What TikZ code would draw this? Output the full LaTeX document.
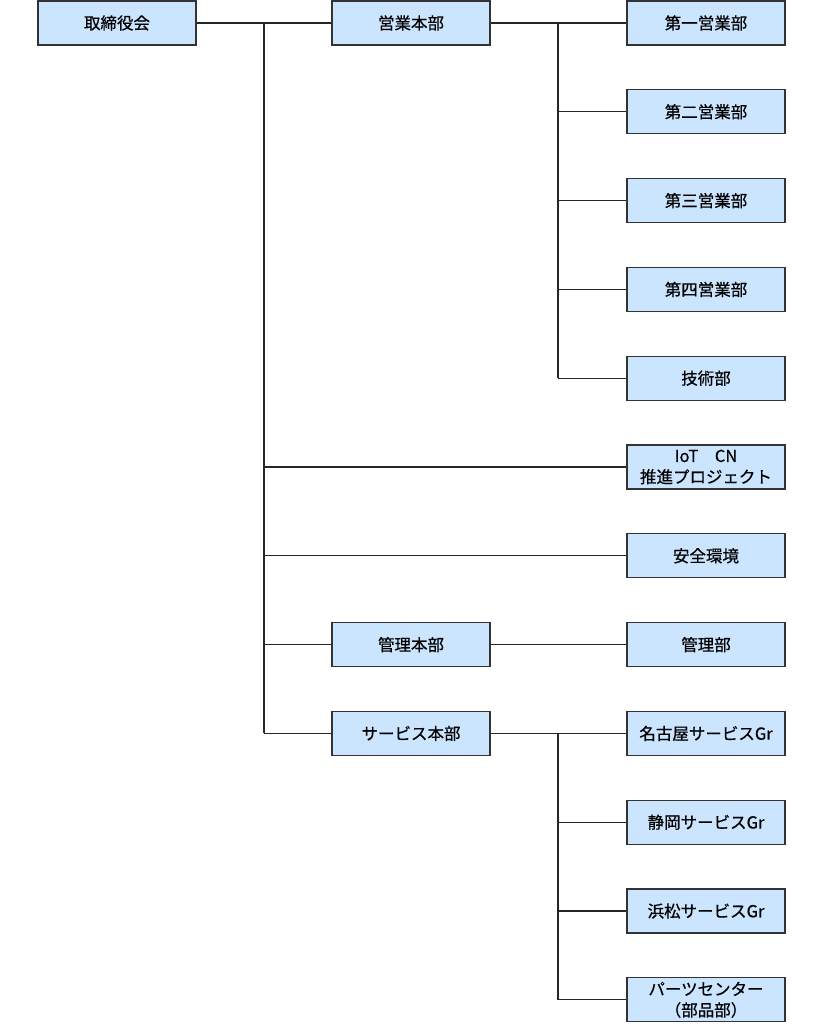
\documentclass[tikz,border=0pt]{standalone}
\usepackage{fontspec}
\setmainfont{Noto Sans CJK JP}[FakeBold=0.6]
\begin{document}
\begin{tikzpicture}[x=1pt,y=-1pt,
  box/.style={draw=black!80,fill=boxfill,line width=1.2pt,minimum width=158pt,minimum height=44pt,inner sep=0pt,align=center,font=\fontsize{16.5}{21}\selectfont},
  conn/.style={line width=1.2pt,black!85}]
\definecolor{boxfill}{HTML}{CCE5FF}
\useasboundingbox (0,0) rectangle (823,1024);
\def\rs{88.8}
\node[box] (a0) at (117,23) {取締役会};
\node[box] (b0) at (411,23) {営業本部};
\node[box] (c0) at (706,23) {第一営業部};
\node[box] (c1) at (706,23+\rs) {第二営業部};
\node[box] (c2) at (706,23+2*\rs) {第三営業部};
\node[box] (c3) at (706,23+3*\rs) {第四営業部};
\node[box] (c4) at (706,23+4*\rs) {技術部};
\node[box] (c5) at (706,23+5*\rs) {IoT　CN\\推進プロジェクト};
\node[box] (c6) at (706,23+6*\rs) {安全環境};
\node[box] (b7) at (411,23+7*\rs) {管理本部};
\node[box] (c7) at (706,23+7*\rs) {管理部};
\node[box] (b8) at (411,23+8*\rs) {サービス本部};
\node[box] (c8) at (706,23+8*\rs) {名古屋サービスGr};
\node[box] (c9) at (706,23+9*\rs) {静岡サービスGr};
\node[box] (c10) at (706,23+10*\rs) {浜松サービスGr};
\node[box] (c11) at (706,23+11*\rs) {パーツセンター\\（部品部）};
\coordinate (v1) at (264,0);
\coordinate (v2) at (558,0);
\draw[conn] (a0) -- (b0);
\draw[conn] (b0) -- (c0);
\draw[conn] (v1 |- a0) -- (v1 |- b8);
\draw[conn] (v2 |- c0) -- (v2 |- c4);
\foreach \i in {1,2,3,4} \draw[conn] (v2 |- c\i) -- (c\i);
\draw[conn] (v1 |- c5) -- (c5);
\draw[conn] (v1 |- c6) -- (c6);
\draw[conn] (v1 |- b7) -- (b7);
\draw[conn] (v1 |- b8) -- (b8);
\draw[conn] (b7) -- (c7);
\draw[conn] (b8) -- (c8);
\draw[conn] (v2 |- c8) -- (v2 |- c11);
\foreach \i in {9,10,11} \draw[conn] (v2 |- c\i) -- (c\i);
\end{tikzpicture}
\end{document}
